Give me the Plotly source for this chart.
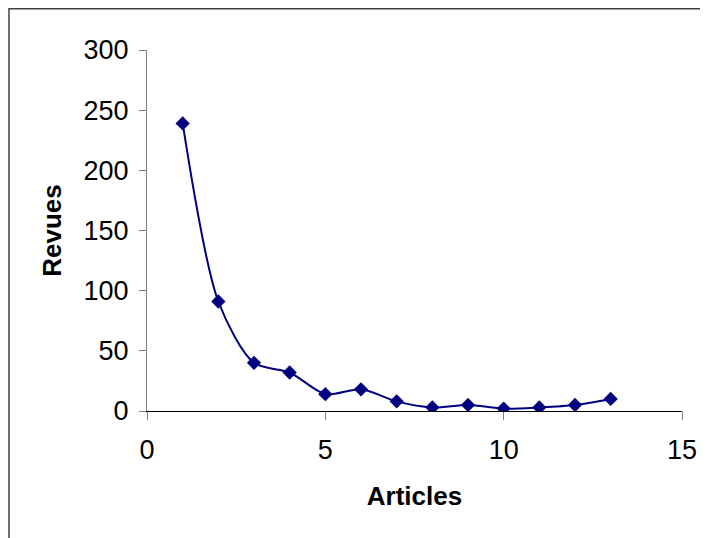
import plotly.graph_objects as go

# Données
articles = [1, 2, 3, 4, 5, 6, 7, 8, 9, 10, 11, 12, 13]
revues = [239, 91, 40, 32, 14, 18, 8, 3, 5, 2, 3, 5, 10]

fig = go.Figure()

fig.add_trace(go.Scatter(
    x=articles,
    y=revues,
    mode='lines+markers',
    line=dict(color='#000080', width=2, shape='spline', smoothing=0.8),
    marker=dict(symbol='diamond', size=11, color='#000080'),
    showlegend=False
))

# Cadre extérieur (coupé à droite et en bas comme dans l'original)
fig.add_shape(type='rect', xref='paper', yref='paper',
              x0=-0.258, x1=1.1, y0=-0.5, y1=1.114,
              line=dict(color='#404040', width=1.5))

font_ticks = dict(family='Liberation Sans, Arial, sans-serif', size=27, color='black')
font_title = dict(family='Liberation Sans, Arial, sans-serif', size=26, color='black')

fig.update_xaxes(
    range=[0, 15], tickvals=[0, 5, 10, 15],
    showline=True, linecolor='black', linewidth=1,
    ticks='outside', ticklen=8, tickcolor='#808080',
    ticklabelstandoff=7,
    showgrid=False, zeroline=False,
    tickfont=font_ticks,
    title=dict(text='<b>Articles</b>', font=font_title, standoff=22)
)
fig.update_yaxes(
    range=[0, 300], tickvals=[0, 50, 100, 150, 200, 250, 300],
    showline=True, linecolor='#808080', linewidth=1,
    ticks='outside', ticklen=7, tickcolor='#808080',
    ticklabelstandoff=5,
    showgrid=False, zeroline=False,
    tickfont=font_ticks,
    title=dict(text='<b>Revues</b>', font=font_title, standoff=14)
)

fig.update_layout(
    width=708, height=538,
    margin=dict(l=139, r=34, t=42, b=135),
    plot_bgcolor='white', paper_bgcolor='white'
)

fig.write_html("out.html")
